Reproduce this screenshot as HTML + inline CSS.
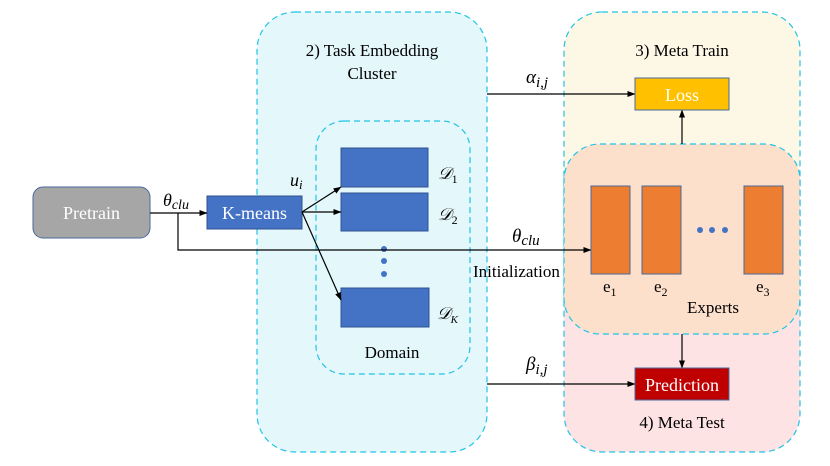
<!DOCTYPE html>
<html><head><meta charset="utf-8"><style>
html,body{margin:0;padding:0;background:#fff;width:830px;height:466px;overflow:hidden}
svg{display:block;font-family:"Liberation Serif","Times New Roman","DejaVu Serif",serif}
svg text{font-family:"Liberation Serif","Times New Roman","DejaVu Serif",serif}
</style></head><body>
<svg width="830" height="466" viewBox="0 0 830 466" xmlns="http://www.w3.org/2000/svg" font-family="Liberation Serif, Times New Roman, DejaVu Serif, serif">
<defs>
<marker id="a" markerWidth="8" markerHeight="6" refX="7.5" refY="3" orient="auto" markerUnits="userSpaceOnUse"><path d="M0,0 L8,3 L0,6z" fill="#000"/></marker>
<clipPath id="mc"><rect x="564" y="12" width="236" height="440" rx="38"/></clipPath>
</defs>
<rect x="257" y="12" width="230" height="440" rx="38" fill="#e4f8fc" stroke="#21c3e6" stroke-width="1.2" stroke-dasharray="6,4"/>
<g clip-path="url(#mc)">
<rect x="564" y="12" width="236" height="230" fill="#fdf8e6"/>
<rect x="564" y="242" width="236" height="210" fill="#fde3e3"/>
</g>
<rect x="564" y="12" width="236" height="440" rx="38" fill="none" stroke="#21c3e6" stroke-width="1.2" stroke-dasharray="6,4"/>
<rect x="564" y="144" width="236" height="190" rx="36" fill="#fde0cc" stroke="#21c3e6" stroke-width="1.2" stroke-dasharray="6,4"/>
<rect x="316" y="121" width="154" height="253" rx="28" fill="#e4f8fc" stroke="#21c3e6" stroke-width="1.2" stroke-dasharray="6,4"/>

<text x="372" y="56" font-size="17" text-anchor="middle">2) Task Embedding</text>
<text x="372" y="79" font-size="17" text-anchor="middle">Cluster</text>
<text x="682" y="56" font-size="17" text-anchor="middle">3) Meta Train</text>
<text x="682" y="428" font-size="17" text-anchor="middle">4) Meta Test</text>

<rect x="33" y="187" width="117" height="51" rx="10" fill="#a6a6a6" stroke="#4a6a9a" stroke-width="1"/>
<text x="91.5" y="219" font-size="18" fill="#fff" text-anchor="middle">Pretrain</text>
<rect x="207" y="196" width="95" height="33" fill="#4472c4" stroke="#2f528f" stroke-width="1"/>
<text x="254.5" y="219" font-size="18" fill="#fff" text-anchor="middle">K-means</text>

<rect x="341" y="148" width="87" height="39" fill="#4472c4" stroke="#2f528f"/>
<rect x="341" y="193" width="87" height="38" fill="#4472c4" stroke="#2f528f"/>
<rect x="341" y="288" width="88" height="39" fill="#4472c4" stroke="#2f528f"/>
<circle cx="384" cy="249" r="3" fill="#4472c4"/>
<circle cx="384" cy="261" r="3" fill="#4472c4"/>
<circle cx="384" cy="274" r="3" fill="#4472c4"/>
<text x="438" y="179" font-size="17" font-style="italic">𝒟<tspan font-size="12" dy="4" font-style="normal">1</tspan></text>
<text x="438" y="220" font-size="17" font-style="italic">𝒟<tspan font-size="12" dy="4" font-style="normal">2</tspan></text>
<text x="437" y="319" font-size="17" font-style="italic">𝒟<tspan font-size="11" dy="4">K</tspan></text>
<text x="392" y="358" font-size="17" text-anchor="middle">Domain</text>

<g stroke="#000" stroke-width="1.2" fill="none">
<line x1="150" y1="213" x2="207" y2="213" marker-end="url(#a)"/>
<polyline points="178,213 178,250 591,250" marker-end="url(#a)"/>
<line x1="302" y1="212" x2="341" y2="187" marker-end="url(#a)"/>
<line x1="302" y1="212" x2="341" y2="212" marker-end="url(#a)"/>
<line x1="302" y1="212" x2="341" y2="300" marker-end="url(#a)"/>
<line x1="487" y1="94" x2="635" y2="94" marker-end="url(#a)"/>
<line x1="487" y1="384" x2="635" y2="384" marker-end="url(#a)"/>
<line x1="682" y1="144" x2="682" y2="110" marker-end="url(#a)"/>
<line x1="682" y1="334" x2="682" y2="368" marker-end="url(#a)"/>
</g>

<text x="163" y="206" font-size="18" font-style="italic">θ<tspan font-size="14" dy="3">clu</tspan></text>
<text x="290" y="186" font-size="18" font-style="italic">u<tspan font-size="13" dy="3">i</tspan></text>
<text x="512" y="242" font-size="19" font-style="italic">θ<tspan font-size="15" dy="3">clu</tspan></text>
<text x="473" y="277" font-size="17">Initialization</text>
<text x="526" y="83" font-size="19" font-style="italic">α<tspan font-size="15" dy="4">i,j</tspan></text>
<text x="526" y="370" font-size="19" font-style="italic">β<tspan font-size="15" dy="4">i,j</tspan></text>

<rect x="635" y="78" width="94" height="32" fill="#ffc000" stroke="#4a6a9a"/>
<text x="682" y="101" font-size="18" fill="#fff" text-anchor="middle">Loss</text>
<rect x="635" y="368" width="94" height="32" fill="#c00000" stroke="#4a6a9a"/>
<text x="682" y="391" font-size="18" fill="#fff" text-anchor="middle">Prediction</text>

<rect x="591" y="186" width="39" height="88" fill="#ed7d31" stroke="#4a6a9a"/>
<rect x="642" y="186" width="39" height="88" fill="#ed7d31" stroke="#4a6a9a"/>
<rect x="744" y="186" width="39" height="88" fill="#ed7d31" stroke="#4a6a9a"/>
<circle cx="700" cy="230" r="3" fill="#4472c4"/>
<circle cx="712" cy="230" r="3" fill="#4472c4"/>
<circle cx="725" cy="230" r="3" fill="#4472c4"/>
<text x="603" y="292" font-size="17">e<tspan font-size="12" dy="4">1</tspan></text>
<text x="654" y="292" font-size="17">e<tspan font-size="12" dy="4">2</tspan></text>
<text x="756" y="292" font-size="17">e<tspan font-size="12" dy="4">3</tspan></text>
<text x="713" y="313" font-size="17" text-anchor="middle">Experts</text>
</svg>
</body></html>
